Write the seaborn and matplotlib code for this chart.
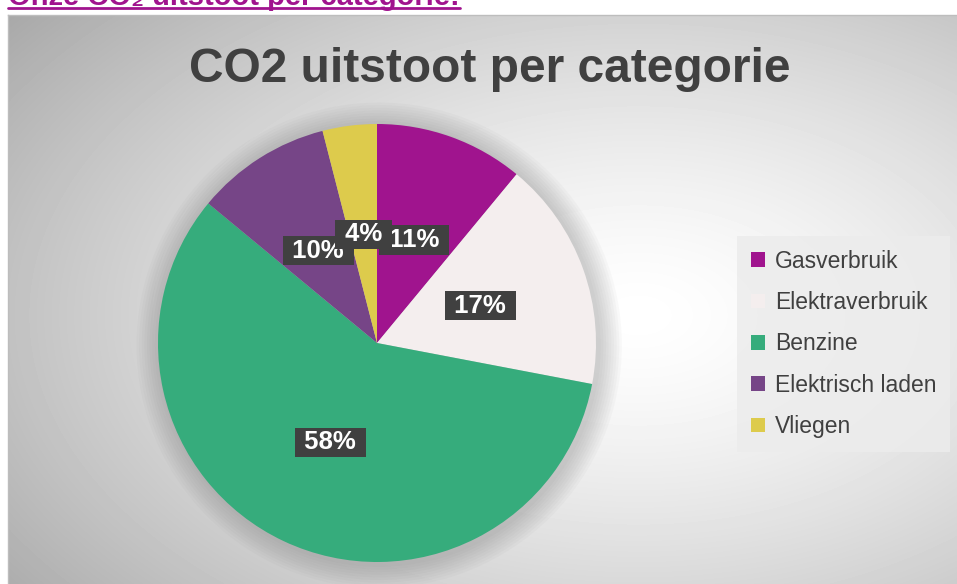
import numpy as np
import matplotlib
matplotlib.use("Agg")
import matplotlib.pyplot as plt
import seaborn as sns
from matplotlib.lines import Line2D
from matplotlib.patches import Circle

# ─────────────────────────────────────────
# DATA
# ─────────────────────────────────────────
categories = ["Gasverbruik", "Elektraverbruik", "Benzine", "Elektrisch laden", "Vliegen"]
shares = [11, 17, 58, 10, 4]
colors = ["#A0148E", "#F4EEEE", "#36AC7C", "#764587", "#DDCB4C"]

heading = "Onze CO₂ uitstoot per categorie:"
title = "CO2 uitstoot per categorie"

# ─────────────────────────────────────────
# STYLE
# ─────────────────────────────────────────
sns.set_style("white")
plt.rcParams["font.family"] = ["Liberation Sans", "DejaVu Sans"]
palette = sns.color_palette(colors)

W, H = 957, 584
fig = plt.figure(figsize=(W / 100, H / 100), dpi=100)
fig.patch.set_facecolor("white")

# chart area with radial grey gradient
left, top = 8, 15
bg = fig.add_axes([left / W, 0, (W - left) / W, (H - top) / H])
yy, xx = np.mgrid[0:H - top, 0:W - left]
d = np.sqrt(((xx - 630) / 700.0) ** 2 + ((yy - 300) / 420.0) ** 2)
shade = 1 - 0.28 * np.clip(d, 0, 1.4) ** 1.4
bg.imshow(shade, cmap="gray", vmin=0, vmax=1, aspect="auto", interpolation="bilinear")
bg.set_xticks([])
bg.set_yticks([])
for s in bg.spines.values():
    s.set_color("#BDBDBD")
    s.set_linewidth(1)
bg.spines["right"].set_visible(False)
bg.spines["bottom"].set_visible(False)

# ─────────────────────────────────────────
# PIE
# ─────────────────────────────────────────
cx, cy, r = 377, 343, 219
ax = fig.add_axes([(cx - r) / W, (H - cy - r) / H, 2 * r / W, 2 * r / H])
ax.set_facecolor("none")

# soft shadow round the pie
for k in range(9):
    ax.add_patch(Circle((0.01, -0.01), 1.0 + 0.012 * (k + 1), fc="#707070",
                        ec="none", alpha=0.04, zorder=0, clip_on=False))

wedges, texts, autotexts = ax.pie(
    shares, colors=palette, startangle=90, counterclock=False,
    autopct=lambda p: f" {p:.0f}% ", pctdistance=0.5,
    wedgeprops=dict(linewidth=0),
    textprops=dict(color="white", fontsize=18.5, fontweight="bold"),
)
for t, z in zip(autotexts, [6, 5, 5, 4, 7]):
    t.set_bbox(dict(boxstyle="square,pad=0.1", fc="#404040", ec="none"))
    t.set_zorder(z)
ax.set_xlim(-1, 1)
ax.set_ylim(-1, 1)
ax.set_aspect("equal")
ax.axis("off")

# ─────────────────────────────────────────
# TITLE, HEADING, LEGEND
# ─────────────────────────────────────────
fig.text(490 / W, 1 - 69 / H, title, ha="center", va="center",
         fontsize=34.5, fontweight="bold", color="#404040")

head = fig.text(left / W, 1 - 5 / H, heading, ha="left", va="baseline",
                fontsize=21, fontweight="bold", color="#A0148E")
fig.canvas.draw()
bb = head.get_window_extent()
fig.add_artist(Line2D([bb.x0 / W, bb.x1 / W], [1 - 8 / H, 1 - 8 / H],
                      color="#A0148E", lw=2, transform=fig.transFigure))

leg = fig.legend(wedges, categories, loc="upper left",
                 bbox_to_anchor=(737 / W, 1 - 236 / H),
                 fontsize=16.5, frameon=True, fancybox=False,
                 handlelength=0.6, handleheight=0.6, handletextpad=0.45,
                 labelspacing=0.8, borderpad=0.6, borderaxespad=0)
leg.get_frame().set_facecolor("#ECECEC")
leg.get_frame().set_edgecolor("none")
leg.get_frame().set_alpha(0.85)
for t in leg.get_texts():
    t.set_color("#404040")

fig.savefig("out.png", dpi=100)
